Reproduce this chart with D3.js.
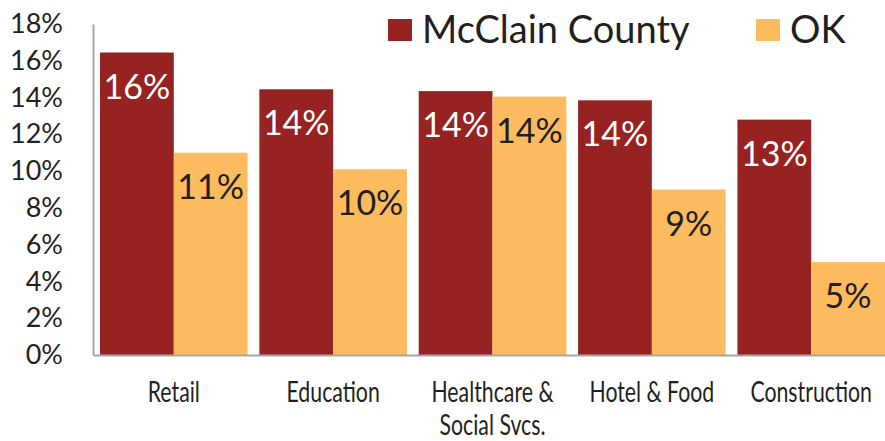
<!DOCTYPE html>
<html>
<head>
<meta charset="utf-8">
<script src="https://cdn.jsdelivr.net/npm/d3@7"></script>
<style>
  body { margin: 0; background: #fff; }
  text { font-family: Lato, "Open Sans", sans-serif; fill: #231f20; }
</style>
</head>
<body>
<svg id="chart" width="885" height="441"></svg>
<script>
const categories = ["Retail", "Education", "Healthcare & Social Svcs.", "Hotel & Food", "Construction"];
const catLines = [["Retail"], ["Education"], ["Healthcare &", "Social Svcs."], ["Hotel & Food"], ["Construction"]];
const seriesNames = ["McClain County", "OK"];
const mcclain = [16.45, 14.45, 14.35, 13.85, 12.8];
const ok = [11.0, 10.1, 14.05, 9.0, 5.05];
const yTicks = [0, 2, 4, 6, 8, 10, 12, 14, 16, 18];

const colors = ["#962221", "#fdbb60"];
const labelColors = ["#ffffff", "#231f20"];

const svg = d3.select("#chart");
const plotLeft = 93, plotRight = 892, plotTop = 24, plotBottom = 355;

const x = d3.scaleBand()
  .domain(categories)
  .range([plotLeft, plotRight])
  .paddingInner(0.074)
  .paddingOuter(0.044);

const xs = d3.scaleBand()
  .domain(seriesNames)
  .range([0, x.bandwidth()]);

const y = d3.scaleLinear()
  .domain([0, 18])
  .range([plotBottom, plotTop]);

const rows = categories.map((c, i) => ({cat: c, vals: [mcclain[i], ok[i]]}));

// bars
const grp = svg.append("g")
  .selectAll("g")
  .data(rows)
  .enter()
  .append("g")
  .attr("transform", d => `translate(${x(d.cat)},0)`);

grp.selectAll("rect")
  .data(d => d.vals.map((v, k) => ({v, k})))
  .enter()
  .append("rect")
  .attr("x", d => xs(seriesNames[d.k]))
  .attr("width", xs.bandwidth())
  .attr("y", d => y(d.v))
  .attr("height", d => y(0) - y(d.v))
  .attr("fill", d => colors[d.k]);

grp.selectAll("text")
  .data(d => d.vals.map((v, k) => ({v, k})))
  .enter()
  .append("text")
  .attr("x", d => xs(seriesNames[d.k]) + xs.bandwidth() / 2)
  .attr("y", d => y(d.v) + 46)
  .attr("text-anchor", "middle")
  .style("font-size", "34px")
  .style("fill", d => labelColors[d.k])
  .text(d => Math.round(d.v) + "%");

// y axis
const yAxis = svg.append("g")
  .attr("transform", `translate(${plotLeft},0)`)
  .call(d3.axisLeft(y).tickValues(yTicks).tickSize(0).tickPadding(30).tickFormat(d => d + "%"));
yAxis.select(".domain").attr("stroke", "#a6a6a6").attr("stroke-width", 2);
yAxis.selectAll("text").style("font-size", "27px").attr("fill", null);

// x axis, condensed labels
const xAxis = svg.append("g")
  .attr("transform", `translate(0,${plotBottom})`)
  .call(d3.axisBottom(x).tickSize(0).tickFormat(""));
xAxis.select(".domain").attr("stroke", "#a6a6a6").attr("stroke-width", 2);
xAxis.selectAll(".tick text").remove();
xAxis.selectAll(".tick")
  .append("text")
  .attr("text-anchor", "middle")
  .attr("transform", "scale(0.76,1)")
  .style("font-size", "28px")
  .selectAll("tspan")
  .data((d, i) => catLines[i])
  .enter()
  .append("tspan")
  .attr("x", 0)
  .attr("y", (d, j) => 47 + j * 33)
  .text(d => d);

// legend
const legendX = [388, 756];
const leg = svg.append("g")
  .selectAll("g")
  .data(seriesNames)
  .enter()
  .append("g")
  .attr("transform", (d, i) => `translate(${legendX[i]},0)`);
leg.append("rect")
  .attr("x", 0).attr("y", 19)
  .attr("width", 24).attr("height", 22)
  .attr("fill", (d, i) => colors[i]);
leg.append("text")
  .attr("x", 34).attr("y", 43)
  .style("font-size", "38px")
  .text(d => d);
</script>
</body>
</html>
